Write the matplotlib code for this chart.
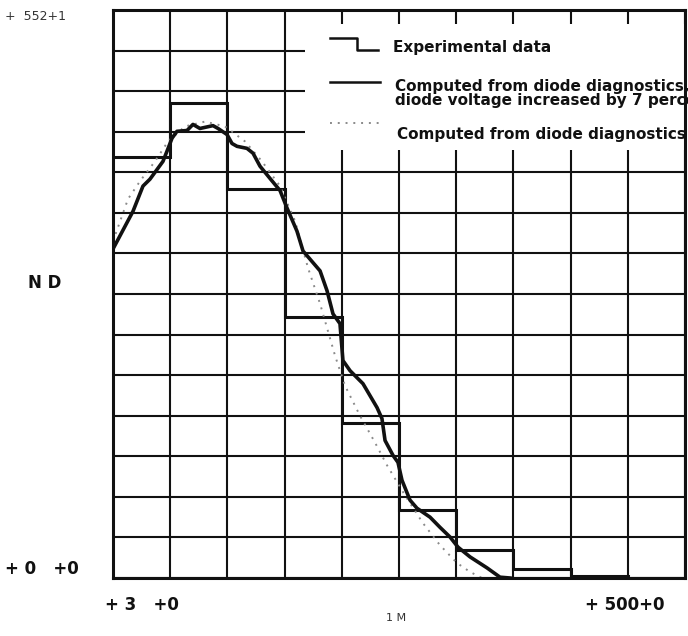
import matplotlib
matplotlib.use("Agg")
import matplotlib.pyplot as plt
import numpy as np
from matplotlib.patches import Rectangle

# ---- data ----
exp_edges = [0, 50, 100, 150, 200, 250, 300, 350, 400, 450, 500]
exp_values = [10.37, 11.7, 9.6, 6.43, 3.82, 1.67, 0.69, 0.22, 0.05, 0.0]

solid_x = [0, 17.5, 26.2, 32.3, 39.3, 43.7, 47.2, 51.6, 55.9, 64.7, 69.9, 76.0,
           87.4, 91.8, 99.7, 104.0, 108.4, 117.1, 122.4, 128.5, 137.2, 146.0,
           152.1, 160.8, 166.1, 181.0, 187.1, 192.3, 198.4, 201.0, 207.2, 218.5,
           230.8, 235.1, 237.8, 244.8, 249.1, 252.6, 259.6, 265.7, 277.1, 285.8,
           294.6, 301.6, 312.1, 326.9, 338.3, 347.0]
solid_y = [8.11, 9.04, 9.66, 9.83, 10.10, 10.27, 10.52, 10.84, 11.01, 11.03, 11.18,
           11.08, 11.15, 11.08, 10.93, 10.71, 10.64, 10.59, 10.47, 10.15, 9.85,
           9.55, 9.12, 8.55, 8.06, 7.57, 7.08, 6.51, 6.27, 5.36, 5.11, 4.79, 4.20,
           3.93, 3.39, 3.02, 2.85, 2.41, 1.92, 1.72, 1.50, 1.25, 1.01, 0.76, 0.52,
           0.25, 0.02, 0.0]

dot_x = [0, 13.1, 23.6, 36.7, 48.1, 62.9, 80.4, 97.9, 115.4, 130.2, 146.0, 159.1,
         170.5, 181.0, 194.1, 202.8, 215.9, 229.0, 239.5, 255.2, 271.0, 285.8,
         300.7, 312.1, 322.6]
dot_y = [8.30, 9.34, 9.78, 10.27, 10.76, 11.13, 11.25, 11.13, 10.76, 10.27, 9.66,
         8.80, 7.64, 6.76, 5.48, 4.74, 4.00, 3.34, 2.78, 2.04, 1.35, 0.81, 0.37,
         0.15, 0.0]

x_grid = list(range(0, 501, 50))
y_grid = list(range(0, 15))

legend_labels = ["Experimental data",
                 "Computed from diode diagnostics,",
                 "diode voltage increased by 7 percent",
                 "Computed from diode diagnostics"]

# ---- figure ----
fig = plt.figure(figsize=(6.88, 6.36), dpi=100)
ax = fig.add_axes([113/688, 1-578/636, 572/688, 568/636])
ax.set_xlim(0, 500)
ax.set_ylim(0, 14)
ax.set_xticks([])
ax.set_yticks([])

for gx in x_grid:
    ax.axvline(gx, color="#111111", lw=1.5, zorder=1)
for gy in y_grid:
    ax.axhline(gy, color="#111111", lw=1.5, zorder=1)

for s in ax.spines.values():
    s.set_linewidth(2.2)
    s.set_color("#111111")
    s.set_zorder(4)

# white legend area
ax.add_patch(Rectangle((0.336, 0.754), 0.67, 0.222, transform=ax.transAxes,
                       facecolor="white", edgecolor="none", zorder=2, clip_on=False))

# experimental histogram
ax.stairs(exp_values, exp_edges, color="#111111", lw=2.2, zorder=3, baseline=None)
# computed curves
ax.plot(dot_x, dot_y, color="#8a8a8a", lw=1.4, ls=(0, (1, 3)), zorder=3)
ax.plot(solid_x, solid_y, color="#111111", lw=2.6, zorder=3)

# legend (manual)
T = ax.transAxes
ax.plot([0.379, 0.427, 0.427, 0.463], [0.951, 0.951, 0.930, 0.930], transform=T,
        color="#111111", lw=1.8, zorder=5, clip_on=False)
ax.plot([0.379, 0.467], [0.873, 0.873], transform=T, color="#111111", lw=1.8,
        zorder=5, clip_on=False)
ax.plot([0.379, 0.467], [0.801, 0.801], transform=T, color="#8a8a8a", lw=1.4,
        ls=(0, (1, 3)), zorder=5, clip_on=False)
tk = dict(transform=T, fontsize=11, fontweight="bold", family="DejaVu Sans",
          va="center", ha="left", zorder=6, clip_on=False, color="#111111")
ax.text(0.490, 0.934, legend_labels[0], **tk)
ax.text(0.493, 0.866, legend_labels[1], **tk)
ax.text(0.493, 0.841, legend_labels[2], **tk)
ax.text(0.497, 0.780, legend_labels[3], **tk)

# garbled axis annotations of the scan
lk = dict(fontsize=12, fontweight="bold", family="DejaVu Sans", color="#111111",
          va="center", ha="left")
fig.text(5/688, 1-16/636, "+  552+1", fontsize=9, family="DejaVu Sans",
         color="#333333", va="center", ha="left")
fig.text(28/688, 1-283/636, "N D", **lk)
fig.text(5/688, 1-569/636, "+ 0   +0", **lk)
fig.text(105/688, 1-605/636, "+ 3   +0", **lk)
fig.text(585/688, 1-605/636, "+ 500+0", **lk)
fig.text(386/688, 1-618/636, "1 M", fontsize=8, family="DejaVu Sans",
         color="#333333", va="center", ha="left")

fig.savefig("out.png", dpi=100)
